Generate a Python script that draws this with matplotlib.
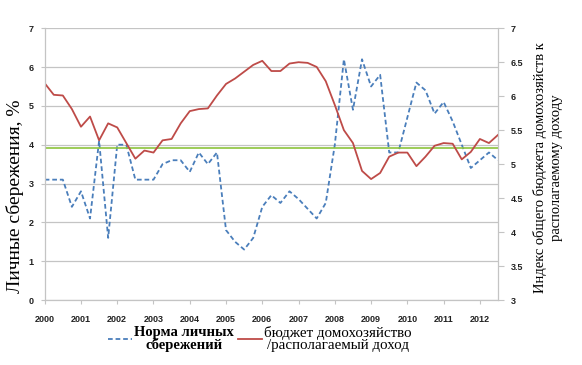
import numpy as np
import matplotlib.pyplot as plt

# quarterly data, 2000Q1 .. 2012Q3
years = [str(y) for y in range(2000, 2013)]

savings_rate = [3.1, 3.1, 3.1, 2.4, 2.8, 2.1, 4.1, 1.6, 4.0, 4.0,
                3.1, 3.1, 3.1, 3.5, 3.6, 3.6, 3.3, 3.8, 3.5, 3.8,
                1.8, 1.5, 1.3, 1.6, 2.4, 2.7, 2.5, 2.8, 2.6, 2.35,
                2.1, 2.5, 4.0, 6.2, 4.9, 6.2, 5.5, 5.8, 3.8, 3.8,
                4.7, 5.6, 5.4, 4.8, 5.1, 4.6, 4.0, 3.4, 3.6, 3.8, 3.6]

budget_index = [6.19, 6.02, 6.01, 5.81, 5.55, 5.70, 5.35, 5.60, 5.54, 5.31,
                5.08, 5.20, 5.17, 5.35, 5.37, 5.60, 5.78, 5.81, 5.82, 6.01,
                6.18, 6.26, 6.36, 6.46, 6.52, 6.37, 6.37, 6.48, 6.50, 6.49,
                6.43, 6.22, 5.87, 5.50, 5.31, 4.90, 4.78, 4.87, 5.11, 5.17,
                5.17, 4.97, 5.11, 5.27, 5.31, 5.30, 5.07, 5.18, 5.37, 5.31, 5.43]

avg_level = 3.92

x = np.arange(len(savings_rate))

plt.rcParams['font.family'] = ['Liberation Sans', 'DejaVu Sans']

fig = plt.figure(figsize=(5.82, 3.65), dpi=100)
ax = fig.add_axes([0.0768, 0.178, 0.7789, 0.7447])
ax2 = ax.twinx()

grid_c = '#c4c4c4'
ax.set_ylim(0, 7)
ax.set_yticks(range(0, 8))
ax.yaxis.grid(True, color=grid_c, lw=0.9)
ax.set_axisbelow(True)
ax.set_xlim(0, len(x) - 1)
ax.set_xticks(range(0, len(x), 4))
ax.set_xticklabels(years)

l1, = ax.plot(x, savings_rate, color='#4a7ebb', ls=(0, (2.6, 1.6)), lw=1.3)
ax.axhline(avg_level, color='#8cc43c', lw=1.2)
l2, = ax2.plot(x, budget_index, color='#be4b48', lw=1.3)
ax2.set_ylim(3, 7)
ax2.set_yticks(np.arange(3, 7.01, 0.5))
ax2.set_yticklabels(['3', '3.5', '4', '4.5', '5', '5.5', '6', '6.5', '7'])

for a in (ax, ax2):
    for s in a.spines.values():
        s.set_color(grid_c)
    a.spines['top'].set_visible(False)
ax.tick_params(axis='both', colors=grid_c, labelcolor='#222222', length=3,
               labelsize=6.5)
ax2.tick_params(axis='y', colors=grid_c, labelcolor='#222222', length=4,
                labelsize=6.5, pad=5)
for t in ax.get_xticklabels() + ax.get_yticklabels() + ax2.get_yticklabels():
    t.set_fontweight('bold')
ax.tick_params(axis='x', pad=8)
ax.tick_params(axis='y', pad=5)

fig.text(15 / 582, 1 - 196 / 365, 'Личные сбережения, %', rotation=90,
         ha='center', va='center', fontsize=14, family='Liberation Serif')
fig.text(548 / 582, 1 - 168 / 365,
         'Индекс общего бюджета домохозяйств к\nрасполагаемому доходу',
         rotation=90, ha='center', va='center', multialignment='center',
         fontsize=10.5, family='Liberation Serif', linespacing=1.3)

leg = ax.legend([l1, l2], ['Норма личных\nсбережений',
                           'бюджет домохозяйство\n/располагаемый доход'],
                loc='upper center', bbox_to_anchor=(0.475, -0.075), ncol=2,
                frameon=False, handlelength=1.7, handletextpad=0.15,
                columnspacing=0.3, borderaxespad=0)
txts = leg.get_texts()
txts[0].set_fontproperties({'family': 'Liberation Serif', 'weight': 'bold', 'size': 10.5})
txts[1].set_fontproperties({'family': 'Liberation Serif', 'size': 10.8})
for t in txts:
    t.set_multialignment('center')
    t.set_linespacing(0.95)

fig.savefig('out.png', dpi=100)
